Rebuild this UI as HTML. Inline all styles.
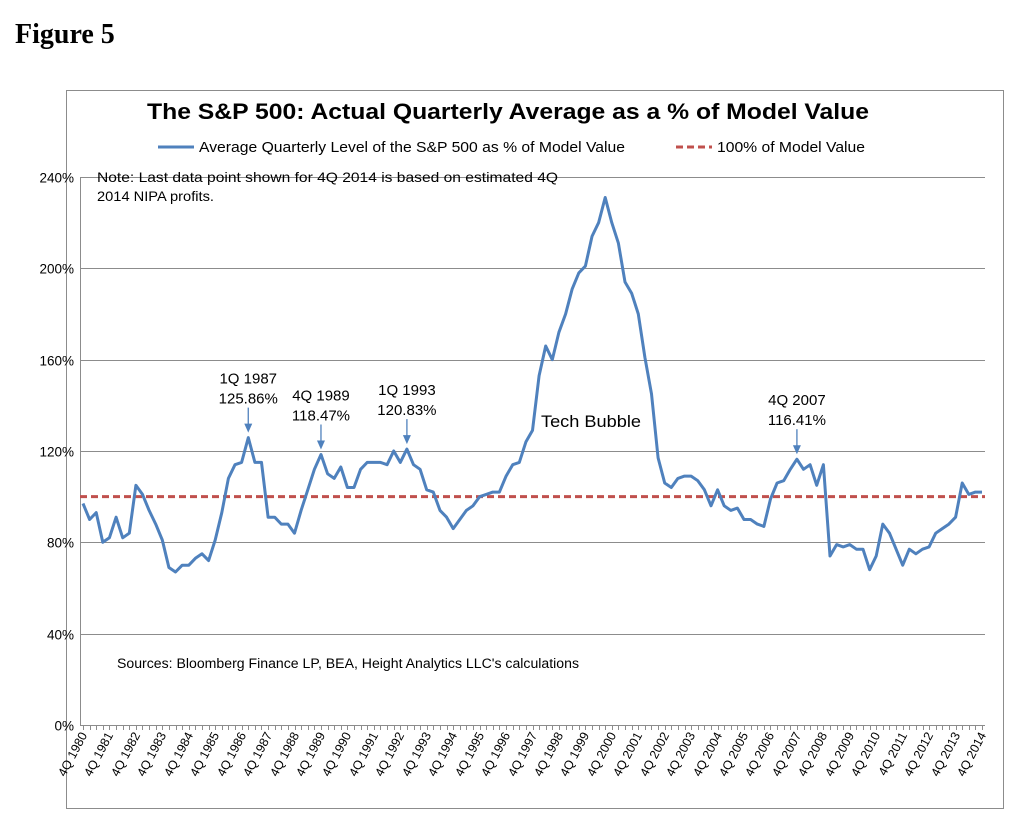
<!DOCTYPE html>
<html><head><meta charset="utf-8"><style>
body{margin:0;background:#fff;width:1024px;height:820px;overflow:hidden;font-family:"Liberation Sans",sans-serif}
</style></head><body>
<svg id="c" width="1024" height="820" style="position:absolute;left:0;top:0">
<text x="15" y="43" font-family="Liberation Serif,serif" font-weight="bold" font-size="28">Figure 5</text>
<rect x="66.500" y="90.500" width="937" height="718" fill="none" stroke="#8c8c8c"/>
<text x="508" y="119" text-anchor="middle" font-weight="bold" font-size="22" textLength="722" lengthAdjust="spacingAndGlyphs">The S&amp;P 500:  Actual Quarterly Average as a % of Model Value</text>
<line x1="158" y1="147" x2="194" y2="147" stroke="#4f81bd" stroke-width="3"/>
<text x="199" y="152" font-size="15" textLength="426" lengthAdjust="spacingAndGlyphs">Average Quarterly Level of the S&amp;P 500 as % of Model Value</text>
<line x1="676" y1="147" x2="712" y2="147" stroke="#c0504d" stroke-width="3" stroke-dasharray="7,4"/>
<text x="717" y="152" font-size="15" textLength="148" lengthAdjust="spacingAndGlyphs">100% of Model Value</text>
<g id="grid"></g><g id="xa"></g><g id="marks"></g>
<text x="97" y="182" font-size="14" textLength="461" lengthAdjust="spacingAndGlyphs">Note: Last data point shown for 4Q 2014 is based on estimated 4Q</text>
<text x="97" y="201" font-size="14" textLength="117" lengthAdjust="spacingAndGlyphs">2014 NIPA profits.</text>
<text x="117" y="668" font-size="13.5" textLength="462" lengthAdjust="spacingAndGlyphs">Sources: Bloomberg Finance LP, BEA, Height Analytics LLC's calculations</text>
<text x="541" y="427" font-size="17" textLength="100" lengthAdjust="spacingAndGlyphs">Tech Bubble</text>
<g id="ann"></g>
</svg>
<script>
const yTicks=[0,40,80,120,160,200,240];
const quarters=[];for(let y=1980;y<=2014;y++){if(y===1980){quarters.push('4Q 1980');continue;}for(let q=1;q<=4;q++)quarters.push(q+'Q '+y);}
const values=[97,90,93,80,82,91,82,84,105,101,94,88,81,69,67,70,70,73,75,72,81,93,108,114,115,125.86,115,115,91,91,88,88,84,94,103,112,118.47,110,108,113,104,104,112,115,115,115,114,120,115,120.83,114,112,103,102,94,91,86,90,94,96,100,101,102,102,109,114,115,124,129,153,166,160,172,180,191,198,201,214,220,231,220,211,194,189,180,161,145,117,106,104,108,109,109,107,103,96,103,96,94,95,90,90,88,87,99,106,107,112,116.41,112,114,105,114,74,79,78,79,77,77,68,74,88,84,77,70,77,75,77,78,84,86,88,91,106,101,102,102];
const modelLine=[100];
const annotations=[{q:'1Q 1987',v:125.86},{q:'4Q 1989',v:118.47},{q:'1Q 1993',v:120.83},{q:'4Q 2007',v:116.41}];
const X0=80,X1=985,Y0=725,Y1=177;
const n=quarters.length;
const xs=i=>83+(982-83)*i/(n-1);
const ys=v=>Y0-(v/240)*(Y0-Y1);
const NS='http://www.w3.org/2000/svg';
function mk(t,a,p){const e=document.createElementNS(NS,t);for(const k in a)e.setAttribute(k,a[k]);p.appendChild(e);return e;}
const g=document.getElementById('grid');
yTicks.forEach(t=>{const y=Math.round(ys(t))+0.5;
 if(t>0){const l=mk('line',{x1:X0,x2:X1,y1:y,y2:y,stroke:'#8c8c8c'},g);
 
 }
 const tx=mk('text',{x:X0-6,y:y+5,'text-anchor':'end','font-size':13.5},g);tx.textContent=t+'%';
 
 });
const xa=document.getElementById('xa');
const ax=mk('line',{x1:X0+0.5,x2:X0+0.5,y1:Y1,y2:Y0,stroke:'#8c8c8c'},xa);


const bx=mk('line',{x1:X0,x2:X1,y1:Y0+0.5,y2:Y0+0.5,stroke:'#8c8c8c'},xa);


quarters.forEach((q,i)=>{const x=Math.round(xs(i))+0.5;
 const tk=mk('line',{x1:x,x2:x,y1:Y0,y2:Y0+5,stroke:'#8c8c8c'},xa);
 
 
 if(q.startsWith('4Q')){const t=mk('text',{x:0,y:0,'text-anchor':'end','font-size':12.5,transform:`translate(${x+4},${Y0+10}) rotate(-62)`},xa);t.textContent=q;
 
 }});
const m=document.getElementById('marks');
const ml=mk('line',{x1:X0,x2:X1,y1:ys(modelLine[0]),y2:ys(modelLine[0]),stroke:'#c0504d','stroke-width':3,'stroke-dasharray':'7,4'},m);


const pl=mk('polyline',{points:values.map((v,i)=>xs(i).toFixed(1)+','+ys(v).toFixed(1)).join(' '),fill:'none',stroke:'#4f81bd','stroke-width':3,'stroke-linejoin':'round'},m);


const an=document.getElementById('ann');
annotations.forEach(a=>{const i=quarters.indexOf(a.q);const x=xs(i),y=ys(a.v);
 const l=mk('line',{x1:x,x2:x,y1:y-30,y2:y-13,stroke:'#4f81bd','stroke-width':1.3},an);
 
 
 const h=mk('polygon',{points:`${x-4},${y-14} ${x+4},${y-14} ${x},${y-5}`,fill:'#4f81bd'},an);
 
 
 const t1=mk('text',{x:x,y:y-54,'text-anchor':'middle','font-size':15},an);t1.textContent=a.q;
 
 
 const t2=mk('text',{x:x,y:y-34,'text-anchor':'middle','font-size':15},an);t2.textContent=a.v.toFixed(2)+'%';
 
 });
</script>
</body></html>
